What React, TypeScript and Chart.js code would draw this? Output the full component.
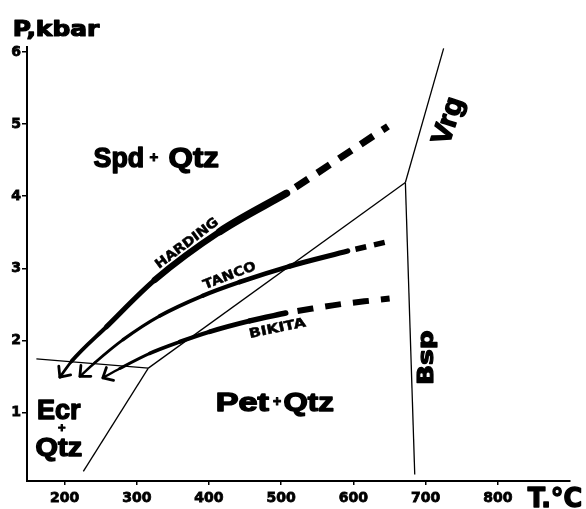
import React, { useEffect, useRef } from "react";
import { Chart, registerables } from "chart.js";

Chart.register(...registerables);

// ---- axis ticks ----
const xTicks = [200, 300, 400, 500, 600, 700, 800];
const yTicks = [1, 2, 3, 4, 5, 6];

// ---- P-T paths (T in °C, P in kbar) ----
const hardingT = [193.5, 209.7, 258.1, 325.0, 415.0, 507.3];
const hardingP = [1.49, 1.71, 2.19, 2.84, 3.51, 4.04];
const hardingDashT = [507.3, 647.9];
const hardingDashP = [4.04, 4.97];

const tancoT = [221.2, 241.9, 281.1, 331.9, 391.4, 442.6, 511.8, 592.1];
const tancoP = [1.5, 1.69, 2.01, 2.34, 2.62, 2.81, 3.03, 3.24];
const tancoDashT = [592.1, 647.9];
const tancoDashP = [3.24, 3.37];

const bikitaT = [253.0, 276.5, 318.1, 359.6, 401.1, 456.5, 506.3];
const bikitaP = [1.48, 1.61, 1.82, 1.98, 2.12, 2.27, 2.38];
const bikitaDashT = [506.3, 580.5, 650.2];
const bikitaDashP = [2.38, 2.5, 2.58];

// ---- phase boundaries ----
const ecrSpdT = [161, 316];
const ecrSpdP = [1.745, 1.616];
const ecrPetT = [316, 226];
const ecrPetP = [1.616, 0.184];
const spdPetT = [316, 672];
const spdPetP = [1.616, 4.19];
const vrgT = [672, 725];
const vrgP = [4.19, 6.05];
const bspT = [672, 685];
const bspP = [4.19, 0.14];

const zip = (xs: number[], ys: number[]) => xs.map((x, i) => ({ x, y: ys[i] }));

const BLACK = "#000";

function drawFit(
  ctx: CanvasRenderingContext2D,
  text: string,
  x: number,
  y: number,
  size: number,
  family: string,
  width: number | null,
  angle: number,
  mode: "base" | "center",
  cap: number,
  stroke: number
) {
  ctx.save();
  ctx.translate(x, y);
  ctx.rotate((angle * Math.PI) / 180);
  ctx.font = `bold ${size}px "${family}"`;
  const w = ctx.measureText(text).width + stroke;
  const sx = width ? width / w : 1;
  ctx.scale(sx, 1);
  ctx.fillStyle = BLACK;
  ctx.strokeStyle = BLACK;
  ctx.lineJoin = "round";
  ctx.textAlign = "center";
  ctx.textBaseline = "alphabetic";
  const yy = mode === "center" ? (cap * size) / 2 : 0;
  ctx.fillText(text, 0, yy);
  if (stroke > 0) {
    ctx.lineWidth = stroke;
    ctx.strokeText(text, 0, yy);
  }
  ctx.restore();
}

const LIB = "Liberation Sans";
const DJV = "DejaVu Sans";

const labelsPlugin = {
  id: "labels",
  afterDatasetsDraw(chart: any) {
    const ctx = chart.ctx as CanvasRenderingContext2D;
    const xs = chart.scales.x;
    const ys = chart.scales.y;
    const X = (t: number) => xs.getPixelForValue(t);
    const Y = (p: number) => ys.getPixelForValue(p);

    // arrowheads at path starts
    chart.data.datasets.forEach((ds: any, i: number) => {
      if (!ds.arrow) return;
      const meta = chart.getDatasetMeta(i);
      const p0 = meta.data[0];
      const p1 = meta.data[1];
      let ux = p1.x - p0.x;
      let uy = p1.y - p0.y;
      const L = Math.hypot(ux, uy);
      ux /= L;
      uy /= L;
      const len = 11;
      const a = (42 * Math.PI) / 180;
      ctx.save();
      ctx.strokeStyle = BLACK;
      ctx.lineWidth = 2.8;
      ctx.lineCap = "round";
      ctx.beginPath();
      for (const s of [a, -a]) {
        const rx = ux * Math.cos(s) - uy * Math.sin(s);
        const ry = ux * Math.sin(s) + uy * Math.cos(s);
        ctx.moveTo(p0.x, p0.y);
        ctx.lineTo(p0.x + rx * len, p0.y + ry * len);
      }
      ctx.stroke();
      ctx.restore();
    });

    // field labels
    drawFit(ctx, "Spd", X(275.2), Y(4.404), 28, LIB, 52, 0, "base", 0.716, 1.4);
    drawFit(ctx, "+", X(323.6), Y(4.543), 15, LIB, null, 0, "center", 0.6, 1);
    drawFit(ctx, "Qtz", X(379), Y(4.404), 28, LIB, 52, 0, "base", 0.716, 1.4);

    drawFit(ctx, "Pet", X(446.1), Y(1.025), 26, LIB, 55, 0, "base", 0.716, 1.4);
    drawFit(ctx, "+", X(494.3), Y(1.154), 14, LIB, null, 0, "center", 0.6, 1);
    drawFit(ctx, "Qtz", X(538.1), Y(1.025), 26, LIB, 52, 0, "base", 0.716, 1.4);

    drawFit(ctx, "Ecr", X(192.1), Y(0.91), 27, LIB, 45, 0, "base", 0.716, 1.4);
    drawFit(ctx, "+", X(196.3), Y(0.789), 13, LIB, null, 0, "center", 0.6, 1);
    drawFit(ctx, "Qtz", X(192.1), Y(0.392), 26, LIB, 48, 0, "base", 0.716, 1.4);

    drawFit(ctx, "Vrg", X(733), Y(5.04), 28, LIB, 50, -72, "center", 0.5, 1.4);
    drawFit(ctx, "Bsp", X(701.5), Y(1.759), 22, DJV, 56, -90, "center", 0.55, 1.2);

    drawFit(ctx, "HARDING", X(368.6), Y(3.357), 13, DJV, 76, -37, "center", 0.73, 0.5);
    drawFit(ctx, "TANCO", X(428.0), Y(2.91), 13, DJV, 56, -21, "center", 0.73, 0.5);
    drawFit(ctx, "BIKITA", X(494.5), Y(2.18), 13, DJV, 58, -11.7, "center", 0.73, 0.5);

    // axis titles
    drawFit(ctx, "P,kbar", 56, 36, 21, DJV, 88, 0, "base", 0.73, 1.2);
    drawFit(ctx, "T.°C", 555, 507, 27, DJV, 56, 0, "base", 0.73, 1.4);
  },
};

function taper(w0: number, w1: number, n: number) {
  return (c: any) => w0 + ((w1 - w0) * c.p0DataIndex) / Math.max(1, n - 2);
}

const tickFont = { family: DJV, weight: "bold", size: 14 };

export default function App() {
  const ref = useRef<HTMLCanvasElement | null>(null);

  useEffect(() => {
    if (!ref.current) return;
    const thin = {
      borderColor: BLACK,
      borderWidth: 1.3,
      pointRadius: 0,
      tension: 0,
      fill: false,
    };
    const curve = {
      borderColor: BLACK,
      borderCapStyle: "round",
      borderJoinStyle: "round",
      pointRadius: 0,
      cubicInterpolationMode: "monotone",
      arrow: true,
    };
    const chart = new Chart(ref.current, {
      type: "line",
      data: {
        datasets: [
          { ...thin, data: zip(ecrSpdT, ecrSpdP) },
          { ...thin, data: zip(ecrPetT, ecrPetP) },
          { ...thin, data: zip(spdPetT, spdPetP) },
          { ...thin, data: zip(vrgT, vrgP) },
          { ...thin, data: zip(bspT, bspP) },
          {
            ...curve,
            data: zip(hardingT, hardingP),
            borderWidth: 3,
            segment: { borderWidth: taper(2.8, 7.5, hardingT.length) },
          } as any,
          {
            data: zip(hardingDashT, hardingDashP),
            borderColor: BLACK,
            borderWidth: 7,
            borderDash: [15, 11],
            borderDashOffset: 15,
            pointRadius: 0,
            tension: 0,
          },
          {
            ...curve,
            data: zip(tancoT, tancoP),
            borderWidth: 3,
            segment: { borderWidth: taper(2.4, 5.2, tancoT.length) },
          } as any,
          {
            data: zip(tancoDashT, tancoDashP),
            borderColor: BLACK,
            borderWidth: 5.5,
            borderDash: [11, 8],
            borderDashOffset: 11,
            pointRadius: 0,
            tension: 0,
          },
          {
            ...curve,
            data: zip(bikitaT, bikitaP),
            borderWidth: 3,
            segment: { borderWidth: taper(2.4, 5.5, bikitaT.length) },
          } as any,
          {
            data: zip(bikitaDashT, bikitaDashP),
            borderColor: BLACK,
            borderWidth: 6,
            borderDash: [16, 12],
            borderDashOffset: 16,
            pointRadius: 0,
            tension: 0.3,
          },
        ],
      },
      options: {
        animation: false,
        responsive: false,
        events: [],
        layout: { padding: { top: 47, right: 16, left: 0, bottom: 0 } },
        plugins: { legend: { display: false }, tooltip: { enabled: false } },
        scales: {
          x: {
            type: "linear",
            min: 148,
            max: 900,
            afterBuildTicks: (s: any) => {
              s.ticks = xTicks.map((v) => ({ value: v }));
            },
            afterFit: (s: any) => {
              s.height = 28;
            },
            ticks: {
              color: BLACK,
              font: tickFont,
              textStrokeColor: BLACK,
              textStrokeWidth: 0.8,
              padding: 5,
              maxRotation: 0,
              autoSkip: false,
              callback: (v: any) => String(v),
            },
            grid: {
              display: true,
              drawOnChartArea: false,
              drawTicks: true,
              tickLength: 4,
              color: BLACK,
              lineWidth: 1.5,
            },
            border: { display: true, color: BLACK, width: 2 },
          },
          y: {
            type: "linear",
            min: 0.05,
            max: 6.07,
            afterBuildTicks: (s: any) => {
              s.ticks = yTicks.map((v) => ({ value: v }));
            },
            afterFit: (s: any) => {
              s.width = 27;
            },
            ticks: {
              color: BLACK,
              font: tickFont,
              textStrokeColor: BLACK,
              textStrokeWidth: 0.8,
              padding: 1,
              autoSkip: false,
              callback: (v: any) => String(v),
            },
            grid: {
              display: true,
              drawOnChartArea: false,
              drawTicks: true,
              tickLength: 5,
              color: BLACK,
              lineWidth: 1.5,
            },
            border: { display: true, color: BLACK, width: 2 },
          },
        },
      } as any,
      plugins: [labelsPlugin],
    });
    return () => chart.destroy();
  }, []);

  return (
    <div style={{ position: "absolute", left: 0, top: 0, width: 586, height: 509, background: "#fff" }}>
      <canvas ref={ref} width={586} height={509} style={{ display: "block" }} />
    </div>
  );
}
